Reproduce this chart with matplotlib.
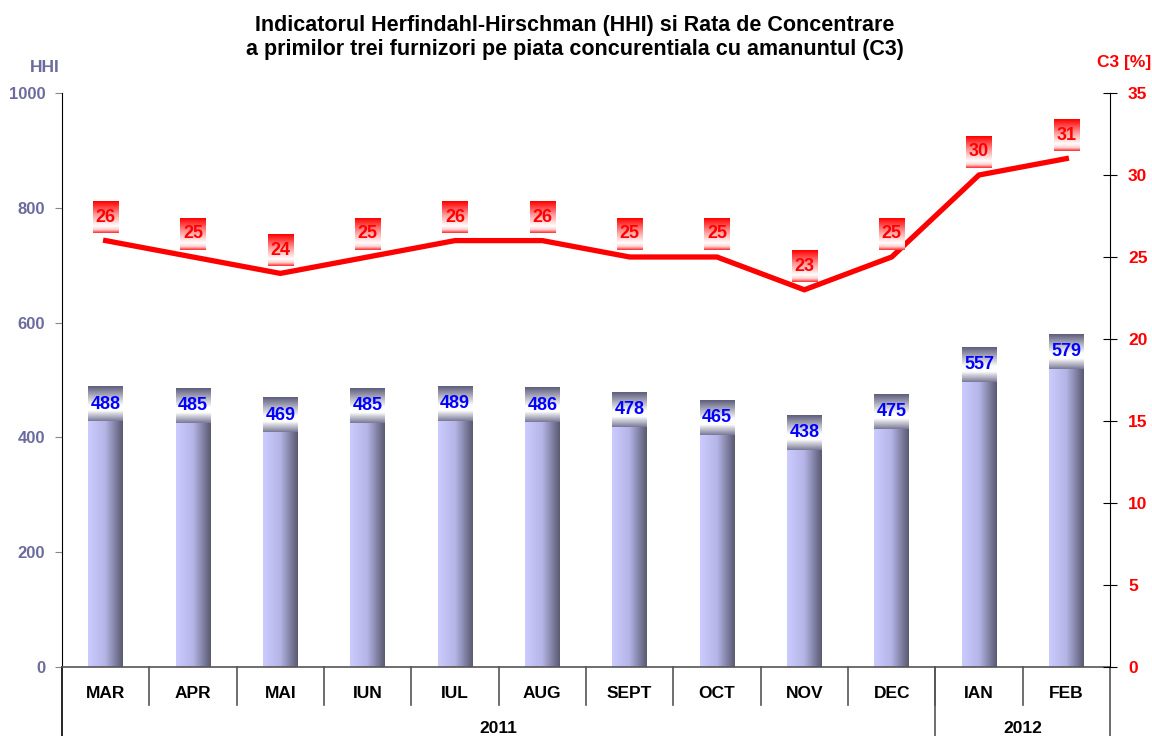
import numpy as np
import matplotlib
matplotlib.use("Agg")
import matplotlib.pyplot as plt
from matplotlib.colors import LinearSegmentedColormap
import matplotlib.transforms as mtransforms

plt.rcParams['font.family'] = ['Liberation Sans', 'DejaVu Sans']
plt.rcParams['font.weight'] = 'bold'

# data
months = ['MAR', 'APR', 'MAI', 'IUN', 'IUL', 'AUG', 'SEPT', 'OCT', 'NOV', 'DEC', 'IAN', 'FEB']
hhi = [488, 485, 469, 485, 489, 486, 478, 465, 438, 475, 557, 579]
c3 = [26, 25, 24, 25, 26, 26, 25, 25, 23, 25, 30, 31]
years = ['2011', '2012']
year_counts = [10, 2]

title = ("Indicatorul Herfindahl-Hirschman (HHI) si Rata de Concentrare\n"
         "a primilor trei furnizori pe piata concurentiala cu amanuntul (C3)")

slate = '#6B6B9E'

bar_cmap = LinearSegmentedColormap.from_list('bar', ['#CBCBFF', '#B4B4E6', '#5A5A72'])
lab_cmap = LinearSegmentedColormap.from_list(
    'lab', [(0, '#5E5E7E'), (0.55, '#FFFFFF'), (0.7, '#FFFFFF'), (1, '#7A7A98')])
red_cmap = LinearSegmentedColormap.from_list(
    'red', [(0, '#FF0000'), (0.45, '#FFA0A0'), (0.78, '#FFFFFF'), (0.9, '#FFD0D0'), (1, '#FF3030')])

fig = plt.figure(figsize=(11.52, 7.36), dpi=100)
ax = fig.add_axes([62/1152, 69/736, 1048/1152, 574/736])
ax2 = ax.twinx()

x = np.arange(len(months))
bw = 0.4
hgrad = np.linspace(0, 1, 64).reshape(1, -1)
vgrad = np.linspace(0, 1, 64).reshape(-1, 1)

# bars with horizontal gradient
bars = ax.bar(x, hhi, width=bw, color='none', zorder=2)
for b, v in zip(bars, hhi):
    x0 = b.get_x()
    ax.imshow(hgrad, cmap=bar_cmap, extent=[x0, x0 + bw, 0, v], aspect='auto', zorder=2,
              interpolation='bilinear')
    # value label box at the top of the bar
    bh = 60
    ax.imshow(vgrad, cmap=lab_cmap, extent=[x0, x0 + bw, v - bh, v], aspect='auto', zorder=3,
              interpolation='bilinear', origin='upper')
    ax.text(x0 + bw / 2, v - bh / 2, str(v), ha='center', va='center', color='#0000FF',
            fontsize=13, fontweight='bold', zorder=4)

ax.set_xlim(-0.5, len(months) - 0.5)
ax.set_ylim(0, 1000)
ax.set_yticks(np.arange(0, 1001, 200))
ax.tick_params(axis='y', direction='out', length=5, color='#888888', labelcolor=slate,
               labelsize=12, pad=7)
ax.set_xticks(x)
ax.set_xticklabels(months)
ax.tick_params(axis='x', length=0, labelsize=12.5, pad=14)
ax.spines['top'].set_visible(False)
ax.spines['right'].set_visible(False)
ax.spines['bottom'].set_color('#555555')
ax.spines['bottom'].set_linewidth(1.2)

# C3 line on the right axis
ax2.plot(x, c3, color='#FF0000', lw=3.8, zorder=5, solid_joinstyle='miter')
rw, rh = 0.29, 1.95
for xi, v in zip(x, c3):
    ax2.imshow(vgrad, cmap=red_cmap, extent=[xi - rw / 2, xi + rw / 2, v + 0.45, v + 0.45 + rh],
               aspect='auto', zorder=6, interpolation='bilinear', origin='upper')
    ax2.text(xi, v + 0.45 + rh / 2, str(v), ha='center', va='center', color='#FF0000',
             fontsize=13, fontweight='bold', zorder=7)
ax2.set_xlim(-0.5, len(months) - 0.5)
ax2.set_ylim(0, 35)
ax2.set_yticks(np.arange(0, 36, 5))
ax2.tick_params(axis='y', direction='inout', length=10, color='black', labelcolor='#FF0000',
                labelsize=12.5, pad=8)
ax2.spines['top'].set_visible(False)
ax2.spines['left'].set_visible(False)
ax2.spines['bottom'].set_visible(False)

# category axis: month separators, year row
trans = mtransforms.blended_transform_factory(ax.transData, ax.transAxes)
bottom = -(736 - 667) / 574 - 0.01
for i in range(1, len(months)):
    ax.plot([i - 0.5, i - 0.5], [0, -0.066], color='#555555', lw=1.2, transform=trans,
            clip_on=False)
start = -0.5
for yr, n in zip(years, year_counts):
    ax.text(start + n / 2, -0.108, yr, ha='center', va='center', fontsize=12.5,
            fontweight='bold', transform=trans)
    start += n
    ax.plot([start, start], [0, bottom], color='#555555', lw=1.2, transform=trans, clip_on=False)
ax.plot([-0.5, -0.5], [0, bottom], color='black', lw=1.2, transform=trans, clip_on=False)

# axis titles
fig.text(45/1152, 1 - 68/736, 'HHI', ha='center', va='center', color=slate, fontsize=12.5,
         fontweight='bold')
fig.text(1124/1152, 1 - 63/736, 'C3 [%]', ha='center', va='center', color='#FF0000',
         fontsize=12.5, fontweight='bold')
fig.text(575/1152, 1 - 15/736, title, ha='center', va='top', fontsize=15.5, fontweight='bold',
         linespacing=1.2)

fig.savefig('out.png', dpi=100)
